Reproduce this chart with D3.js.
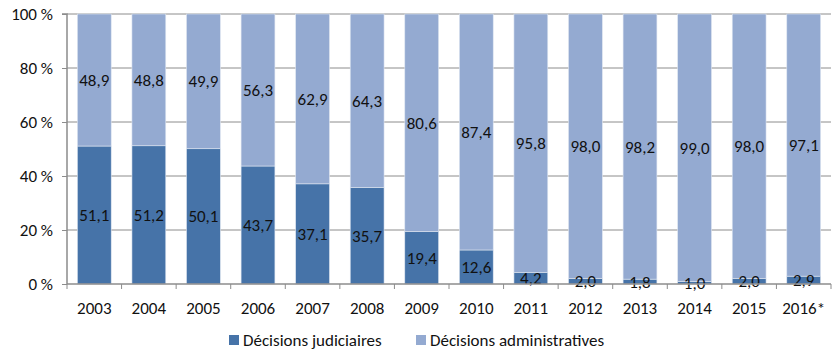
<!DOCTYPE html>
<html><head><meta charset="utf-8">
<script src="https://cdn.jsdelivr.net/npm/d3@7"></script>
<style>
body{margin:0;background:#fff;}
text{font-family:Carlito,"Open Sans","Liberation Sans",sans-serif;fill:#111;}
</style></head>
<body><svg id="c" width="833" height="350"></svg>
<script>
const years = ["2003","2004","2005","2006","2007","2008","2009","2010","2011","2012","2013","2014","2015","2016*"];
const judiciaires = [51.1,51.2,50.1,43.7,37.1,35.7,19.4,12.6,4.2,2.0,1.8,1.0,2.0,2.9];
const administratives = [48.9,48.8,49.9,56.3,62.9,64.3,80.6,87.4,95.8,98.0,98.2,99.0,98.0,97.1];
const yTicks = [0,20,40,60,80,100];
const seriesNames = ["Décisions judiciaires","Décisions administratives"];
const colors = ["#4673A8","#94AAD1"];

const svg = d3.select("#c");
const m = {l:67, r:2, t:14, b:66};
const W = 833, H = 350;
const FS = 17;
const x = d3.scaleBand().domain(years).range([m.l, W - m.r]).paddingInner(0.38).paddingOuter(0.19);
const y = d3.scaleLinear().domain([0,100]).range([H - m.b, m.t]);

const fmt = v => v.toFixed(1).replace(".", ",");

// gridlines
svg.append("g").selectAll("line").data(yTicks.filter(d => d > 0)).join("line")
  .attr("x1", m.l).attr("x2", W - m.r)
  .attr("y1", d => y(d)).attr("y2", d => y(d))
  .attr("stroke", "#8c8c8c").attr("stroke-width", 1);

const rows = years.map((yr, i) => ({year: yr, j: judiciaires[i], a: administratives[i]}));
const stack = d3.stack().keys(["j","a"])(rows);

const groups = svg.append("g").selectAll("g").data(stack).join("g")
  .attr("fill", (d, i) => colors[i]);
groups.selectAll("rect").data(d => d).join("rect")
  .attr("x", d => x(d.data.year))
  .attr("width", x.bandwidth())
  .attr("y", d => y(d[1]))
  .attr("height", d => y(d[0]) - y(d[1]))
  .attr("stroke", "#dfe6f1").attr("stroke-width", 0.6);

// value labels centred in each segment
stack.forEach(s => {
  svg.append("g").selectAll("text").data(s).join("text")
    .attr("x", d => x(d.data.year) + x.bandwidth() / 2)
    .attr("y", d => (y(d[0]) + y(d[1])) / 2)
    .attr("dy", "0.36em")
    .attr("text-anchor", "middle")
    .attr("font-size", FS)
    .text(d => fmt(d[1] - d[0]));
});

// y axis
const yAxis = svg.append("g").attr("transform", `translate(${m.l},0)`)
  .call(d3.axisLeft(y).tickValues(yTicks).tickSize(5).tickFormat(d => d + " %"));
yAxis.select(".domain").attr("stroke", "#8c8c8c").attr("stroke-width", 1.5).attr("d", `M-5,${y(100)}H0V${y(0)}`);
yAxis.selectAll(".tick line").attr("stroke", "#8c8c8c");
yAxis.selectAll(".tick text").attr("font-size", FS).attr("x", -14)
  .attr("font-family", 'Carlito,"Open Sans","Liberation Sans",sans-serif').attr("fill", "#111");

// x axis with ticks between categories
const xg = svg.append("g");
xg.append("line").attr("x1", m.l).attr("x2", W - m.r).attr("y1", y(0)).attr("y2", y(0))
  .attr("stroke", "#8c8c8c").attr("stroke-width", 1.5);
const bounds = d3.range(years.length + 1).map(i => m.l + (W - m.r - m.l) * i / years.length);
xg.selectAll("line.t").data(bounds).join("line").attr("class", "t")
  .attr("x1", d => d).attr("x2", d => d).attr("y1", y(0)).attr("y2", y(0) + 5)
  .attr("stroke", "#8c8c8c");
xg.selectAll("text").data(years).join("text")
  .attr("x", d => x(d) + x.bandwidth() / 2)
  .attr("y", y(0) + 24)
  .attr("dy", "0.36em")
  .attr("text-anchor", "middle").attr("font-size", FS)
  .text(d => d);

// legend
const legX = [229, 416];
const lg = svg.append("g");
seriesNames.forEach((n, i) => {
  lg.append("rect").attr("x", legX[i]).attr("y", 335).attr("width", 10).attr("height", 10).attr("fill", colors[i]);
  lg.append("text").attr("x", legX[i] + 14).attr("y", 340).attr("dy", "0.33em").attr("font-size", FS).text(n);
});
</script></body></html>
